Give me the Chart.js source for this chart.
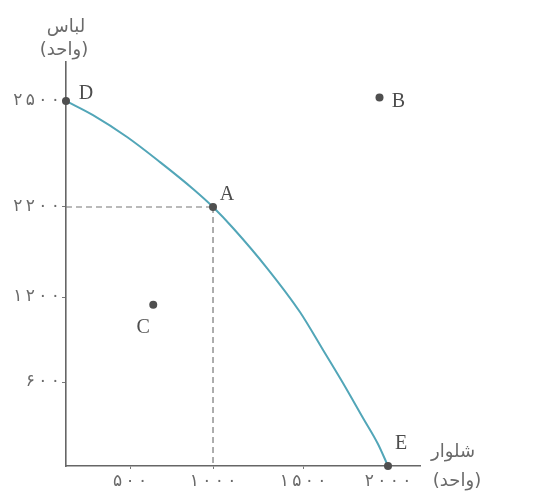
<!DOCTYPE html>
<html>
<head>
<meta charset="utf-8">
<script src="https://cdn.jsdelivr.net/npm/chart.js@4.4.1/dist/chart.umd.min.js"></script>
<style>
  html,body{margin:0;padding:0;background:#fff;}
  #wrap{width:540px;height:495px;}
</style>
</head>
<body>
<div id="wrap"><canvas id="c" width="540" height="495"></canvas></div>
<script>
// ---- data ----
const pointNames = ['D', 'A', 'B', 'C', 'E'];
const pointX = [0, 1000, 1950, 640, 2000];
const pointY = [2500, 2200, 2510, 1145, 0];

const curveX = [0, 211, 477, 681, 880, 1000, 1111, 1300, 1483, 1618, 1735, 1853, 1941, 2000];
const curveY = [2500, 2460, 2398, 2327, 2251, 2200, 1967, 1522, 1094, 826, 593, 343, 157, 0];

const xTickValues = [500, 1000, 1500, 2000];
const xTickLabels = ['۵۰۰', '۱۰۰۰', '۱۵۰۰', '۲۰۰۰'];
const yTickValues = [600, 1200, 2200, 2500];
const yTickLabels = ['۶۰۰', '۱۲۰۰', '۲۲۰۰', '۲۵۰۰'];

const yTitle = ['لباس', '(واحد)'];
const xTitle = ['شلوار', '(واحد)'];

// ---- piecewise scale (the figure's ticks are not evenly spaced) ----
class PiecewiseScale extends Chart.LinearScale {
  _frac(v) {
    const kv = this.options.knotValues, kf = this.options.knotFracs;
    if (v <= kv[0]) return kf[0];
    for (let i = 1; i < kv.length; i++) {
      if (v <= kv[i]) {
        return kf[i-1] + (v - kv[i-1]) / (kv[i] - kv[i-1]) * (kf[i] - kf[i-1]);
      }
    }
    return kf[kf.length - 1];
  }
  getPixelForValue(value) {
    return this.getPixelForDecimal(this._frac(value));
  }
  getValueForPixel(pixel) {
    const d = this.getDecimalForPixel(pixel);
    const kv = this.options.knotValues, kf = this.options.knotFracs;
    for (let i = 1; i < kf.length; i++) {
      if (d <= kf[i]) return kv[i-1] + (d - kf[i-1]) / (kf[i] - kf[i-1]) * (kv[i] - kv[i-1]);
    }
    return kv[kv.length - 1];
  }
}
PiecewiseScale.id = 'piecewise';
PiecewiseScale.defaults = {};
Chart.register(PiecewiseScale);

const curve = curveX.map((x, i) => ({x, y: curveY[i]}));
const pts = pointX.map((x, i) => ({x, y: pointY[i]}));
const idxA = pointNames.indexOf('A');

// spread the digits a little like the printed figure
const spread = s => Array.from(s).join('\u2009');

const labelOffsets = {D: [20, -7], A: [14, -12], B: [19, 4], C: [-10, 23], E: [13, -22]};

const annot = {
  id: 'annot',
  afterDatasetsDraw(chart) {
    const ctx = chart.ctx, xs = chart.scales.x, ys = chart.scales.y;
    ctx.save();
    ctx.fillStyle = '#4d4d4d';
    ctx.font = '20px "Liberation Serif", "DejaVu Serif", serif';
    ctx.textAlign = 'center';
    ctx.textBaseline = 'middle';
    pointNames.forEach((n, i) => {
      const px = xs.getPixelForValue(pointX[i]);
      const py = ys.getPixelForValue(pointY[i]);
      const o = labelOffsets[n];
      ctx.fillText(n, px + o[0], py + o[1]);
    });
    const ca = chart.chartArea;
    ctx.fillStyle = '#6a6a6a';
    ctx.font = '18px "DejaVu Sans", sans-serif';
    ctx.fillText(yTitle[0], ca.left, 27);
    ctx.fillText(yTitle[1], ca.left - 2, 50);
    ctx.fillText(xTitle[0], ca.right + 33, 452);
    ctx.fillText(xTitle[1], ca.right + 37, 481);
    ctx.restore();
  }
};

new Chart(document.getElementById('c'), {
  type: 'scatter',
  data: {
    datasets: [
      {
        data: curve, showLine: true, borderColor: '#52a6b8', borderWidth: 2,
        pointRadius: 0, cubicInterpolationMode: 'monotone', fill: false, clip: false, order: 3
      },
      {
        data: [{x: 0, y: pointY[idxA]}, {x: pointX[idxA], y: pointY[idxA]}],
        showLine: true, borderColor: '#777', borderWidth: 1.2, borderDash: [6, 4],
        pointRadius: 0, clip: false, order: 2
      },
      {
        data: [{x: pointX[idxA], y: pointY[idxA]}, {x: pointX[idxA], y: 0}],
        showLine: true, borderColor: '#777', borderWidth: 1.2, borderDash: [6, 4],
        pointRadius: 0, clip: false, order: 2
      },
      {
        data: pts, showLine: false, pointRadius: 4, pointBackgroundColor: '#4f4f4f',
        pointBorderWidth: 0, clip: false, order: 1
      }
    ]
  },
  options: {
    responsive: false,
    animation: false,
    events: [],
    layout: {padding: {top: 62, right: 120, left: 0, bottom: 0}},
    plugins: {legend: {display: false}, tooltip: {enabled: false}},
    scales: {
      x: {
        type: 'piecewise',
        min: 0, max: 2190,
        knotValues: [0, 500, 1000, 1500, 2000, 2190],
        knotFracs: [0, 0.1808, 0.4153, 0.6695, 0.9096, 1],
        afterBuildTicks: s => { s.ticks = xTickValues.map(v => ({value: v})); },
        afterFit: s => { s.height = 29; },
        ticks: {
          callback: (v, i) => spread(xTickLabels[i]),
          color: '#6a6a6a', font: {family: '"DejaVu Sans", sans-serif', size: 17},
          padding: 2, maxRotation: 0, autoSkip: false
        },
        grid: {display: true, drawOnChartArea: false, drawTicks: true, tickLength: 3, color: '#777', lineWidth: 1},
        border: {display: true, color: '#666', width: 1.6}
      },
      y: {
        type: 'piecewise',
        min: 0, max: 2610,
        knotValues: [0, 600, 1200, 2200, 2500, 2610],
        knotFracs: [0, 0.2079, 0.4183, 0.6411, 0.9035, 1],
        afterBuildTicks: s => { s.ticks = yTickValues.map(v => ({value: v})); },
        afterFit: s => { s.width = 66; },
        ticks: {
          callback: (v, i) => spread(yTickLabels[i]),
          color: '#6a6a6a', font: {family: '"DejaVu Sans", sans-serif', size: 17},
          padding: 2, autoSkip: false
        },
        grid: {display: true, drawOnChartArea: false, drawTicks: true, tickLength: 4, color: '#777', lineWidth: 1},
        border: {display: true, color: '#666', width: 1.6}
      }
    }
  },
  plugins: [annot]
});
</script>
</body>
</html>
